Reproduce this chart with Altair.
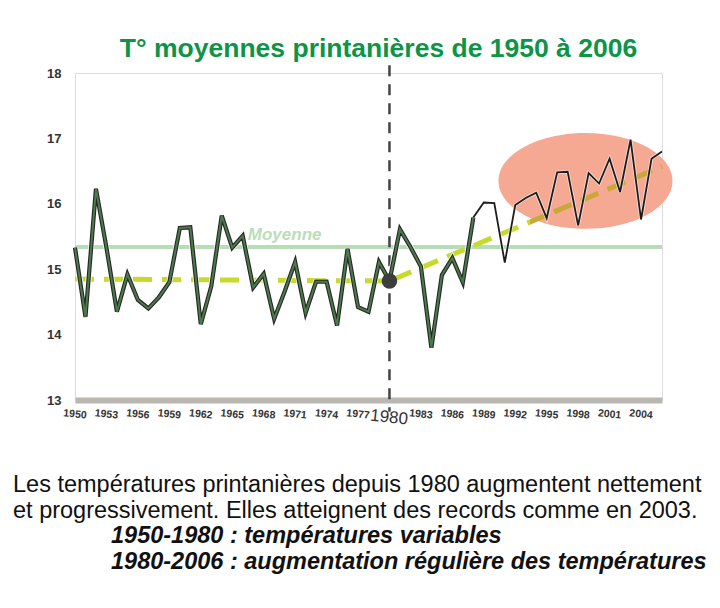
import altair as alt
import pandas as pd

# ---------------- data ----------------
years = list(range(1950, 2007))
temps = [15.33, 14.27, 16.23, 15.33, 14.35, 14.92, 14.53, 14.40, 14.57, 14.80,
         15.63, 15.64, 14.16, 14.74, 15.82, 15.33, 15.51, 14.72, 14.93, 14.24,
         14.66, 15.11, 14.33, 14.81, 14.81, 14.14, 15.31, 14.42, 14.35, 15.11,
         14.82, 15.61, 15.34, 15.04, 13.80, 14.91, 15.17, 14.80, 15.79, 16.02,
         16.01, 15.10, 15.98, 16.09, 16.17, 15.78, 16.48, 16.49, 15.67, 16.47,
         16.31, 16.69, 16.18, 16.98, 15.76, 16.69, 16.80]
trend_years = [1950, 1980, 2006]
trend_temps = [14.85, 14.82, 16.57]
mean_years = [1950, 2006]
mean_temps = [15.34, 15.34]
x_tick_years = [1950, 1953, 1956, 1959, 1962, 1965, 1968, 1971, 1974, 1977,
                1980, 1983, 1986, 1989, 1992, 1995, 1998, 2001, 2004]
y_ticks = [13, 14, 15, 16, 17, 18]
pivot_year = [1980]
pivot_temp = [14.82]
rule_top = [18.12]
rule_bottom = [12.82]
highlight_year = [1998.7]
highlight_temp = [16.35]
split_year = 1988

title_text = "T° moyennes printanières de 1950 à 2006"
mean_label = "Moyenne"
caption_lines = [
    "Les températures printanières depuis 1980 augmentent nettement",
    "et progressivement. Elles atteignent des records comme en 2003.",
    "1950-1980 :  températures variables",
    "1980-2006 : augmentation régulière des températures",
]

FONT = "Liberation Sans"

df = pd.DataFrame({"year": years, "temp": temps})
df_thick = df[df["year"] <= split_year]
df_thin = df[df["year"] >= split_year]
trend_df = pd.DataFrame({"year": trend_years, "temp": trend_temps})
mean_df = pd.DataFrame({"year": mean_years, "temp": mean_temps})
pivot_df = pd.DataFrame({"year": pivot_year, "temp": pivot_temp})
rule_df = pd.DataFrame({"year": pivot_year, "temp": rule_top, "temp2": rule_bottom})
hl_df = pd.DataFrame({"year": highlight_year, "temp": highlight_temp})
label_df = pd.DataFrame({"year": [1970], "temp": [mean_temps[0]], "t": [mean_label]})

# ---------------- scales / axes ----------------
x_scale = alt.Scale(domain=[1950, 2006], nice=False, zero=False)
y_scale = alt.Scale(domain=[13, 18], nice=False, zero=False)

x_axis = alt.Axis(
    values=x_tick_years, format="d", title=None, ticks=False, grid=False,
    domainColor="#bab6b2", domainWidth=6, labelColor="#333333", labelFont=FONT,
    labelFontSize={"condition": {"test": "datum.value == 1980", "value": 17}, "value": 10.5},
    labelFontWeight={"condition": {"test": "datum.value == 1980", "value": "normal"}, "value": "bold"},
    labelPadding=9, labelAngle=6, labelAlign="center", labelBaseline="top",
    labelOverlap=False,
)
y_axis = alt.Axis(
    values=y_ticks, title=None, ticks=False, grid=False, domain=False,
    labelColor="#333333", labelFont=FONT, labelFontSize=13, labelFontWeight="bold",
    labelPadding=14,
)

X = alt.X("year:Q", scale=x_scale, axis=x_axis)
Y = alt.Y("temp:Q", scale=y_scale, axis=y_axis)

# ---------------- layers ----------------
ellipse_path = "M -1 0 A 1 0.55 0 1 0 1 0 A 1 0.55 0 1 0 -1 0 Z"
ellipse = alt.Chart(hl_df).mark_point(
    shape=ellipse_path, filled=True, size=30276, color="#f5a892", opacity=1, strokeWidth=0
).encode(x=X, y=Y)

mean_line = alt.Chart(mean_df).mark_line(color="#b8dcb8", strokeWidth=4).encode(x=X, y=Y)

mean_text = alt.Chart(label_df).mark_text(
    font=FONT, fontSize=17, fontWeight="bold", fontStyle="italic", color="#b9deb9",
    align="center", baseline="alphabetic", dy=-7,
).encode(x=X, y=Y, text="t:N")

trend_color = alt.Gradient(
    gradient="linear", x1=0, y1=0, x2=1, y2=0,
    stops=[alt.GradientStop(offset=0, color="#c6da2c"),
           alt.GradientStop(offset=0.775, color="#c6da2c"),
           alt.GradientStop(offset=0.776, color="#c9a83a"),
           alt.GradientStop(offset=1, color="#c9a83a")],
)
trend = alt.Chart(trend_df).mark_line(
    color=trend_color, strokeWidth=5, strokeDash=[19, 10]
).encode(x=X, y=Y)

rule = alt.Chart(rule_df).mark_rule(
    color="#444444", strokeWidth=2.5, strokeDash=[11, 8]
).encode(x=X, y=Y, y2="temp2:Q")

line_halo = alt.Chart(df_thick).mark_line(color="#ffffff", strokeWidth=6, opacity=0.8).encode(x=X, y=Y)
line_outer = alt.Chart(df_thick).mark_line(color="#262626", strokeWidth=4.2).encode(x=X, y=Y)
line_inner = alt.Chart(df_thick).mark_line(color="#4b7a4b", strokeWidth=2).encode(x=X, y=Y)
thin_halo = alt.Chart(df_thin).mark_line(color="#ffffff", strokeWidth=3.5, opacity=0.6).encode(x=X, y=Y)
thin_line = alt.Chart(df_thin).mark_line(color="#1c1c1c", strokeWidth=1.8).encode(x=X, y=Y)

pivot = alt.Chart(pivot_df).mark_point(
    shape="circle", filled=True, size=240, color="#3d3d3d", opacity=1
).encode(x=X, y=Y)


def caption(i, x, y, emphasis):
    return alt.Chart(pd.DataFrame({"t": [caption_lines[i]]})).mark_text(
        align="left", baseline="alphabetic", font=FONT, fontSize=23.5,
        fontStyle="italic" if emphasis else "normal",
        fontWeight="bold" if emphasis else "normal", color="#111111",
    ).encode(x=alt.value(x), y=alt.value(y), text="t:N")


captions = [
    caption(0, -62, 419, False),
    caption(1, -62, 445, False),
    caption(2, 36, 470, True),
    caption(3, 36, 496, True),
]

chart = alt.layer(
    ellipse, mean_line, mean_text, trend, rule,
    line_halo, line_outer, line_inner, thin_halo, thin_line, pivot, *captions
).properties(
    width=587, height=327,
    padding={"left": 67, "top": 65, "right": 50, "bottom": 200},
    autosize=alt.AutoSizeParams(type="none"),
    title=alt.Title(title_text, font=FONT, fontSize=26.5, fontWeight="bold",
                    color="#0c9447", anchor="middle", dx=10, offset=1),
).configure_view(
    stroke="#c9c9c9", strokeWidth=1.5
).configure(background="white")

chart.save("out.html", embed_options={"renderer": "svg", "actions": False})
